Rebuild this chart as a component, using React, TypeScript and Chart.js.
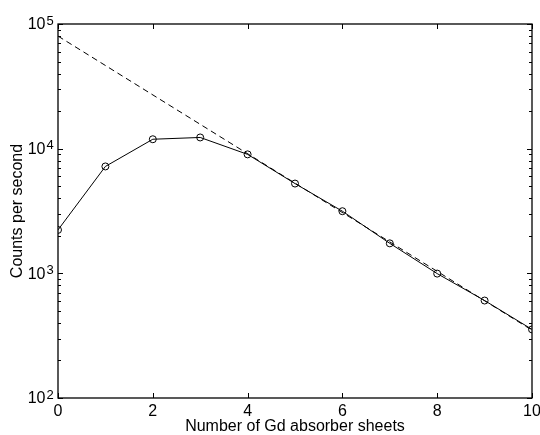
import React, { useEffect, useRef } from "react";
import { Chart, registerables } from "chart.js";

Chart.register(...registerables);

const sheets = [0, 1, 2, 3, 4, 5, 6, 7, 8, 9, 10];
const counts = [2230, 7200, 11900, 12300, 9000, 5250, 3150, 1740, 995, 605, 355];
const fitX = [0, 10];
const fitY = [80000, 350];
const xTicks = [0, 2, 4, 6, 8, 10];
const yMajor = [100, 1000, 10000, 100000];
const yExp = ["2", "3", "4", "5"];
const yMinorMult = [2, 3, 4, 5, 6, 7, 8, 9];

const FONT = "'Liberation Sans', Arial, Helvetica, sans-serif";

const framePlugin = {
  id: "frame",
  afterDraw(chart: any) {
    const { ctx, chartArea } = chart;
    const { left, right, top, bottom } = chartArea;
    const xs = chart.scales.x;
    const ys = chart.scales.y;
    ctx.save();
    ctx.strokeStyle = "#000";
    ctx.lineWidth = 1.3;
    ctx.strokeRect(left, top, right - left, bottom - top);
    ctx.lineWidth = 1;
    ctx.beginPath();
    xTicks.forEach((v) => {
      const px = Math.round(xs.getPixelForValue(v)) + 0.5;
      ctx.moveTo(px, bottom);
      ctx.lineTo(px, bottom - 5);
      ctx.moveTo(px, top);
      ctx.lineTo(px, top + 5);
    });
    yMajor.forEach((v, i) => {
      const py = Math.round(ys.getPixelForValue(v)) + 0.5;
      ctx.moveTo(left, py);
      ctx.lineTo(left + 5, py);
      ctx.moveTo(right, py);
      ctx.lineTo(right - 5, py);
      if (i < yMajor.length - 1) {
        yMinorMult.forEach((m) => {
          const pm = Math.round(ys.getPixelForValue(v * m)) + 0.5;
          ctx.moveTo(left, pm);
          ctx.lineTo(left + 3, pm);
          ctx.moveTo(right, pm);
          ctx.lineTo(right - 3, pm);
        });
      }
    });
    ctx.stroke();
    ctx.fillStyle = "#000";
    yMajor.forEach((v, i) => {
      const py = ys.getPixelForValue(v);
      ctx.font = `16px ${FONT}`;
      ctx.textAlign = "right";
      ctx.textBaseline = "middle";
      ctx.fillText("10", 45.5, py + 1);
      ctx.font = `13px ${FONT}`;
      ctx.textAlign = "left";
      ctx.textBaseline = "alphabetic";
      ctx.fillText(yExp[i], 46.5, py + 0.5);
    });
    ctx.restore();
  },
};

export default function App() {
  const ref = useRef<HTMLCanvasElement | null>(null);
  useEffect(() => {
    if (!ref.current) return;
    const chart = new Chart(ref.current, {
      type: "line",
      data: {
        datasets: [
          {
            label: "measured",
            data: sheets.map((s, i) => ({ x: s, y: counts[i] })),
            borderColor: "#000",
            borderWidth: 1,
            pointStyle: "circle",
            pointRadius: 3.5,
            pointBorderWidth: 1,
            pointBorderColor: "#000",
            pointBackgroundColor: "rgba(0,0,0,0)",
            tension: 0,
            fill: false,
          },
          {
            label: "fit",
            data: fitX.map((s, i) => ({ x: s, y: fitY[i] })),
            borderColor: "#000",
            borderWidth: 1,
            borderDash: [6, 4],
            pointRadius: 0,
            tension: 0,
            fill: false,
          },
        ],
      },
      options: {
        animation: false,
        responsive: false,
        maintainAspectRatio: false,
        layout: { padding: { top: 24, right: 8, left: 0, bottom: 0 } },
        plugins: {
          legend: { display: false },
          tooltip: { enabled: false },
        },
        scales: {
          x: {
            type: "linear",
            min: 0,
            max: 10,
            border: { display: false },
            grid: { display: false, drawTicks: false },
            afterBuildTicks: (scale: any) => {
              scale.ticks = xTicks.map((v) => ({ value: v }));
            },
            ticks: {
              color: "#000",
              font: { family: FONT, size: 16, lineHeight: 1 },
              padding: 6,
              maxRotation: 0,
              autoSkip: false,
            },
            title: {
              display: true,
              text: "Number of Gd absorber sheets",
              color: "#000",
              font: { family: FONT, size: 16, lineHeight: 1 },
              padding: { top: 0, bottom: 0.5 },
            },
            afterFit: (scale: any) => {
              scale.height = 37;
              scale.paddingLeft = 0;
              scale.paddingRight = 0;
            },
          },
          y: {
            type: "logarithmic",
            min: 100,
            max: 100000,
            border: { display: false },
            grid: { display: false, drawTicks: false },
            ticks: { display: false },
            title: {
              display: true,
              text: "Counts per second",
              color: "#000",
              font: { family: FONT, size: 16, lineHeight: 1 },
              padding: { top: 10, bottom: 0 },
            },
            afterFit: (scale: any) => {
              scale.width = 58;
              scale.paddingTop = 0;
              scale.paddingBottom = 0;
            },
          },
        },
      },
      plugins: [framePlugin],
    });
    return () => chart.destroy();
  }, []);
  return (
    <div style={{ position: "fixed", left: 0, top: 0, width: 540, height: 435, background: "#fff" }}>
      <canvas ref={ref} width={540} height={435} style={{ display: "block" }} />
    </div>
  );
}
